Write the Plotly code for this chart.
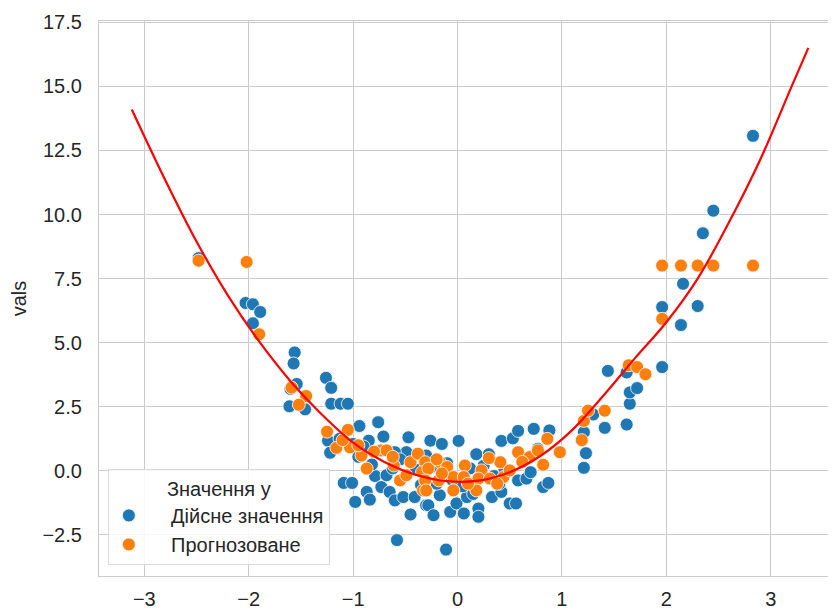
import plotly.graph_objects as go

# Actual values (blue)
actual_x = [-2.48, -2.03, -1.96, -1.89, -1.96, -1.56, -1.57, -1.54, -1.60, -1.61, -1.46,
            -1.26, -1.21, -1.21, -1.12, -1.05, -0.94, -0.76, -1.24, -1.22, -0.71, -0.47,
            -0.85, -0.49, -0.60, -1.09, -1.01, -0.98, -0.87, -0.84, -0.79, -0.73, -0.65,
            -0.68, -0.60, -0.52, -0.45, -0.41, -0.30, -0.58, -0.74, -1.00, -0.95, -0.62,
            -0.40, -0.26, -0.15, 0.01, 0.42, 0.53, 0.58, 0.73, 0.88, 0.18, 0.30, -0.30,
            -0.28, -0.23, -0.17, -0.07, -0.01, 0.06, 0.09, 0.20, 0.20, 0.33, 0.42, 0.50,
            0.56, 0.58, 0.66, 0.82, 0.87, 0.77, -0.11, -0.10, 0.05, 0.25, 0.40, 0.65,
            -0.20, 0.15, 0.35, 1.21, 1.23, 1.21, 1.41, 1.44, 1.62, 1.65, 1.65, 1.72,
            1.62, 1.96, 1.96, 2.14, 2.16, 2.30, 2.35, 2.45, 2.83, 1.30,
            -1.13, -0.90, -0.55, -0.35, -0.05, 0.12, 0.45, 0.70, -0.82, -0.25]
actual_y = [8.30, 6.55, 6.50, 6.20, 5.76, 4.62, 4.19, 3.39, 3.20, 2.52, 2.40,
            3.63, 3.24, 2.62, 2.62, 2.62, 1.75, 1.90, 1.18, 0.71, 1.34, 1.31,
            1.18, 0.73, 0.73, -0.47, -0.47, -1.21, -0.82, -1.12, -0.20, -0.63, -0.82,
            -0.17, -1.15, -1.02, -1.70, -1.02, -1.34, -2.70, 0.80, 1.05, 0.55, 0.10,
            0.05, 1.18, 1.05, 1.17, 1.17, 1.27, 1.56, 1.64, 1.58, 0.65, 0.65, 0.60,
            -1.34, -1.73, -0.95, -1.60, -1.27, -1.66, -1.02, -1.47, -1.79, -1.02, -0.82, -1.27,
            -1.27, -0.37, -0.30, -0.63, -0.47, 0.86, -3.07, 0.30, -0.60, 0.20, -0.50, 0.45,
            -0.50, -0.90, -0.20, 1.51, 0.69, 0.12, 1.68, 3.90, 1.81, 2.62, 3.06, 3.23,
            3.84, 4.05, 6.39, 5.69, 7.30, 6.43, 9.27, 10.15, 13.07, 2.20,
            1.25, 0.95, 0.45, -0.55, -0.35, 0.10, 0.05, -0.05, 0.25, 0.15]

# Predicted values (orange)
pred_x = [-2.48, -2.02, -1.90, -1.59, -1.45, -1.52, -1.25, -1.05, -1.16, -1.03, -0.92,
          -0.73, -0.87, -0.61, -0.45, -0.38, -0.31, -0.55, -0.33, -0.49, -0.68, -0.34,
          -0.17, -0.28, -0.10, 0.07, 0.23, 0.41, 0.58, 0.69, 0.77, 0.86, 0.98, 0.82,
          -0.31, -0.18, -0.04, 0.06, 0.20, 0.31, 0.44, 0.50, -0.30, -0.04, 0.18, 0.38,
          1.19, 1.21, 1.25, 1.41, 1.64, 1.72, 1.80, 1.96, 1.96, 2.14, 2.30, 2.45, 2.83,
          -1.10, -0.95, -0.80, -0.62, -0.20, 0.30, 0.62, 0.10, -0.15]
pred_y = [8.20, 8.15, 5.33, 3.25, 2.92, 2.58, 1.53, 1.60, 0.90, 0.92, 0.60,
          0.80, 0.09, 0.21, 0.34, 0.67, 0.34, -0.37, -0.76, -0.17, 0.80, -0.05,
          0.34, 0.09, 0.15, 0.21, 0.02, 0.34, 0.73, 0.54, 0.80, 1.25, 0.73, 0.24,
          -0.37, -0.37, -0.24, -0.24, -0.30, -0.30, -0.24, 0.02, -0.76, -0.76, -0.76, -0.50,
          1.20, 1.95, 2.35, 2.35, 4.12, 4.05, 3.77, 5.93, 8.01, 8.01, 8.01, 8.01, 8.01,
          1.20, 1.00, 0.75, 0.55, 0.45, 0.50, 0.35, -0.50, -0.10]

# Fitted curve (red)
curve_x = [-3.12, -2.8, -2.5, -2.2, -1.9, -1.6, -1.3, -1.0, -0.7, -0.4, -0.1, 0.2,
           0.5, 0.8, 1.1, 1.4, 1.7, 2.0, 2.3, 2.6, 2.9, 3.2, 3.36]
curve_y = [14.1, 11.35, 8.95, 6.85, 5.05, 3.5, 2.2, 1.1, 0.35, -0.15, -0.4, -0.38,
           -0.05, 0.6, 1.6, 2.95, 4.4, 5.8, 7.5, 9.7, 12.15, 15.0, 16.5]

y_ticks = [-2.5, 0.0, 2.5, 5.0, 7.5, 10.0, 12.5, 15.0, 17.5]
x_ticks = [-3, -2, -1, 0, 1, 2, 3]

font_family = "Liberation Sans, Arial, sans-serif"
text_color = "#262626"
pad = "\u00a0" * 4

fig = go.Figure()
fig.add_trace(go.Scatter(
    x=actual_x, y=actual_y, mode="markers", name=pad + "Дійсне значення",
    marker=dict(color="#1f77b4", size=13, line=dict(color="white", width=0.8)),
))
fig.add_trace(go.Scatter(
    x=pred_x, y=pred_y, mode="markers", name=pad + "Прогнозоване",
    marker=dict(color="#ff7f0e", size=13, line=dict(color="white", width=0.8)),
))
fig.add_trace(go.Scatter(
    x=curve_x, y=curve_y, mode="lines", line=dict(color="red", width=2.2, shape="spline"),
    showlegend=False, hoverinfo="skip",
))

fig.update_layout(
    width=828, height=602,
    margin=dict(l=91, r=0, t=13, b=34),
    paper_bgcolor="white", plot_bgcolor="white",
    font=dict(family=font_family, size=20, color=text_color),
    showlegend=True,
    legend=dict(
        x=0.012, y=0.02, xanchor="left", yanchor="bottom",
        bgcolor="rgba(255,255,255,0.85)", bordercolor="#d9d9d9", borderwidth=1,
        title=dict(text="Значення y", side="top center", font=dict(size=20, color=text_color)),
        font=dict(size=20, color=text_color),
        itemsizing="trace",
    ),
    xaxis=dict(
        range=[-3.434, 3.625], tickmode="array", tickvals=x_ticks,
        ticktext=[("\u2212" + str(-v)) if v < 0 else str(v) for v in x_ticks],
        showgrid=True, gridcolor="#cccccc", gridwidth=1,
        zeroline=False, showline=True, linecolor="#cccccc", linewidth=1.2, mirror=True,
        ticks="outside", ticklen=5, tickcolor="rgba(0,0,0,0)",
        tickfont=dict(size=20, color=text_color),
    ),
    yaxis=dict(
        range=[-4.1, 17.55], tickmode="array", tickvals=y_ticks,
        ticktext=[("\u2212" + f"{-v:.1f}") if v < 0 else f"{v:.1f}" for v in y_ticks],
        showgrid=True, gridcolor="#cccccc", gridwidth=1,
        zeroline=False, showline=True, linecolor="#cccccc", linewidth=1.2, mirror=True,
        ticks="outside", ticklen=12, tickcolor="rgba(0,0,0,0)",
        tickfont=dict(size=20, color=text_color),
        title=dict(text="vals", font=dict(size=20, color=text_color), standoff=12),
    ),
)

fig.write_html("out.html")
